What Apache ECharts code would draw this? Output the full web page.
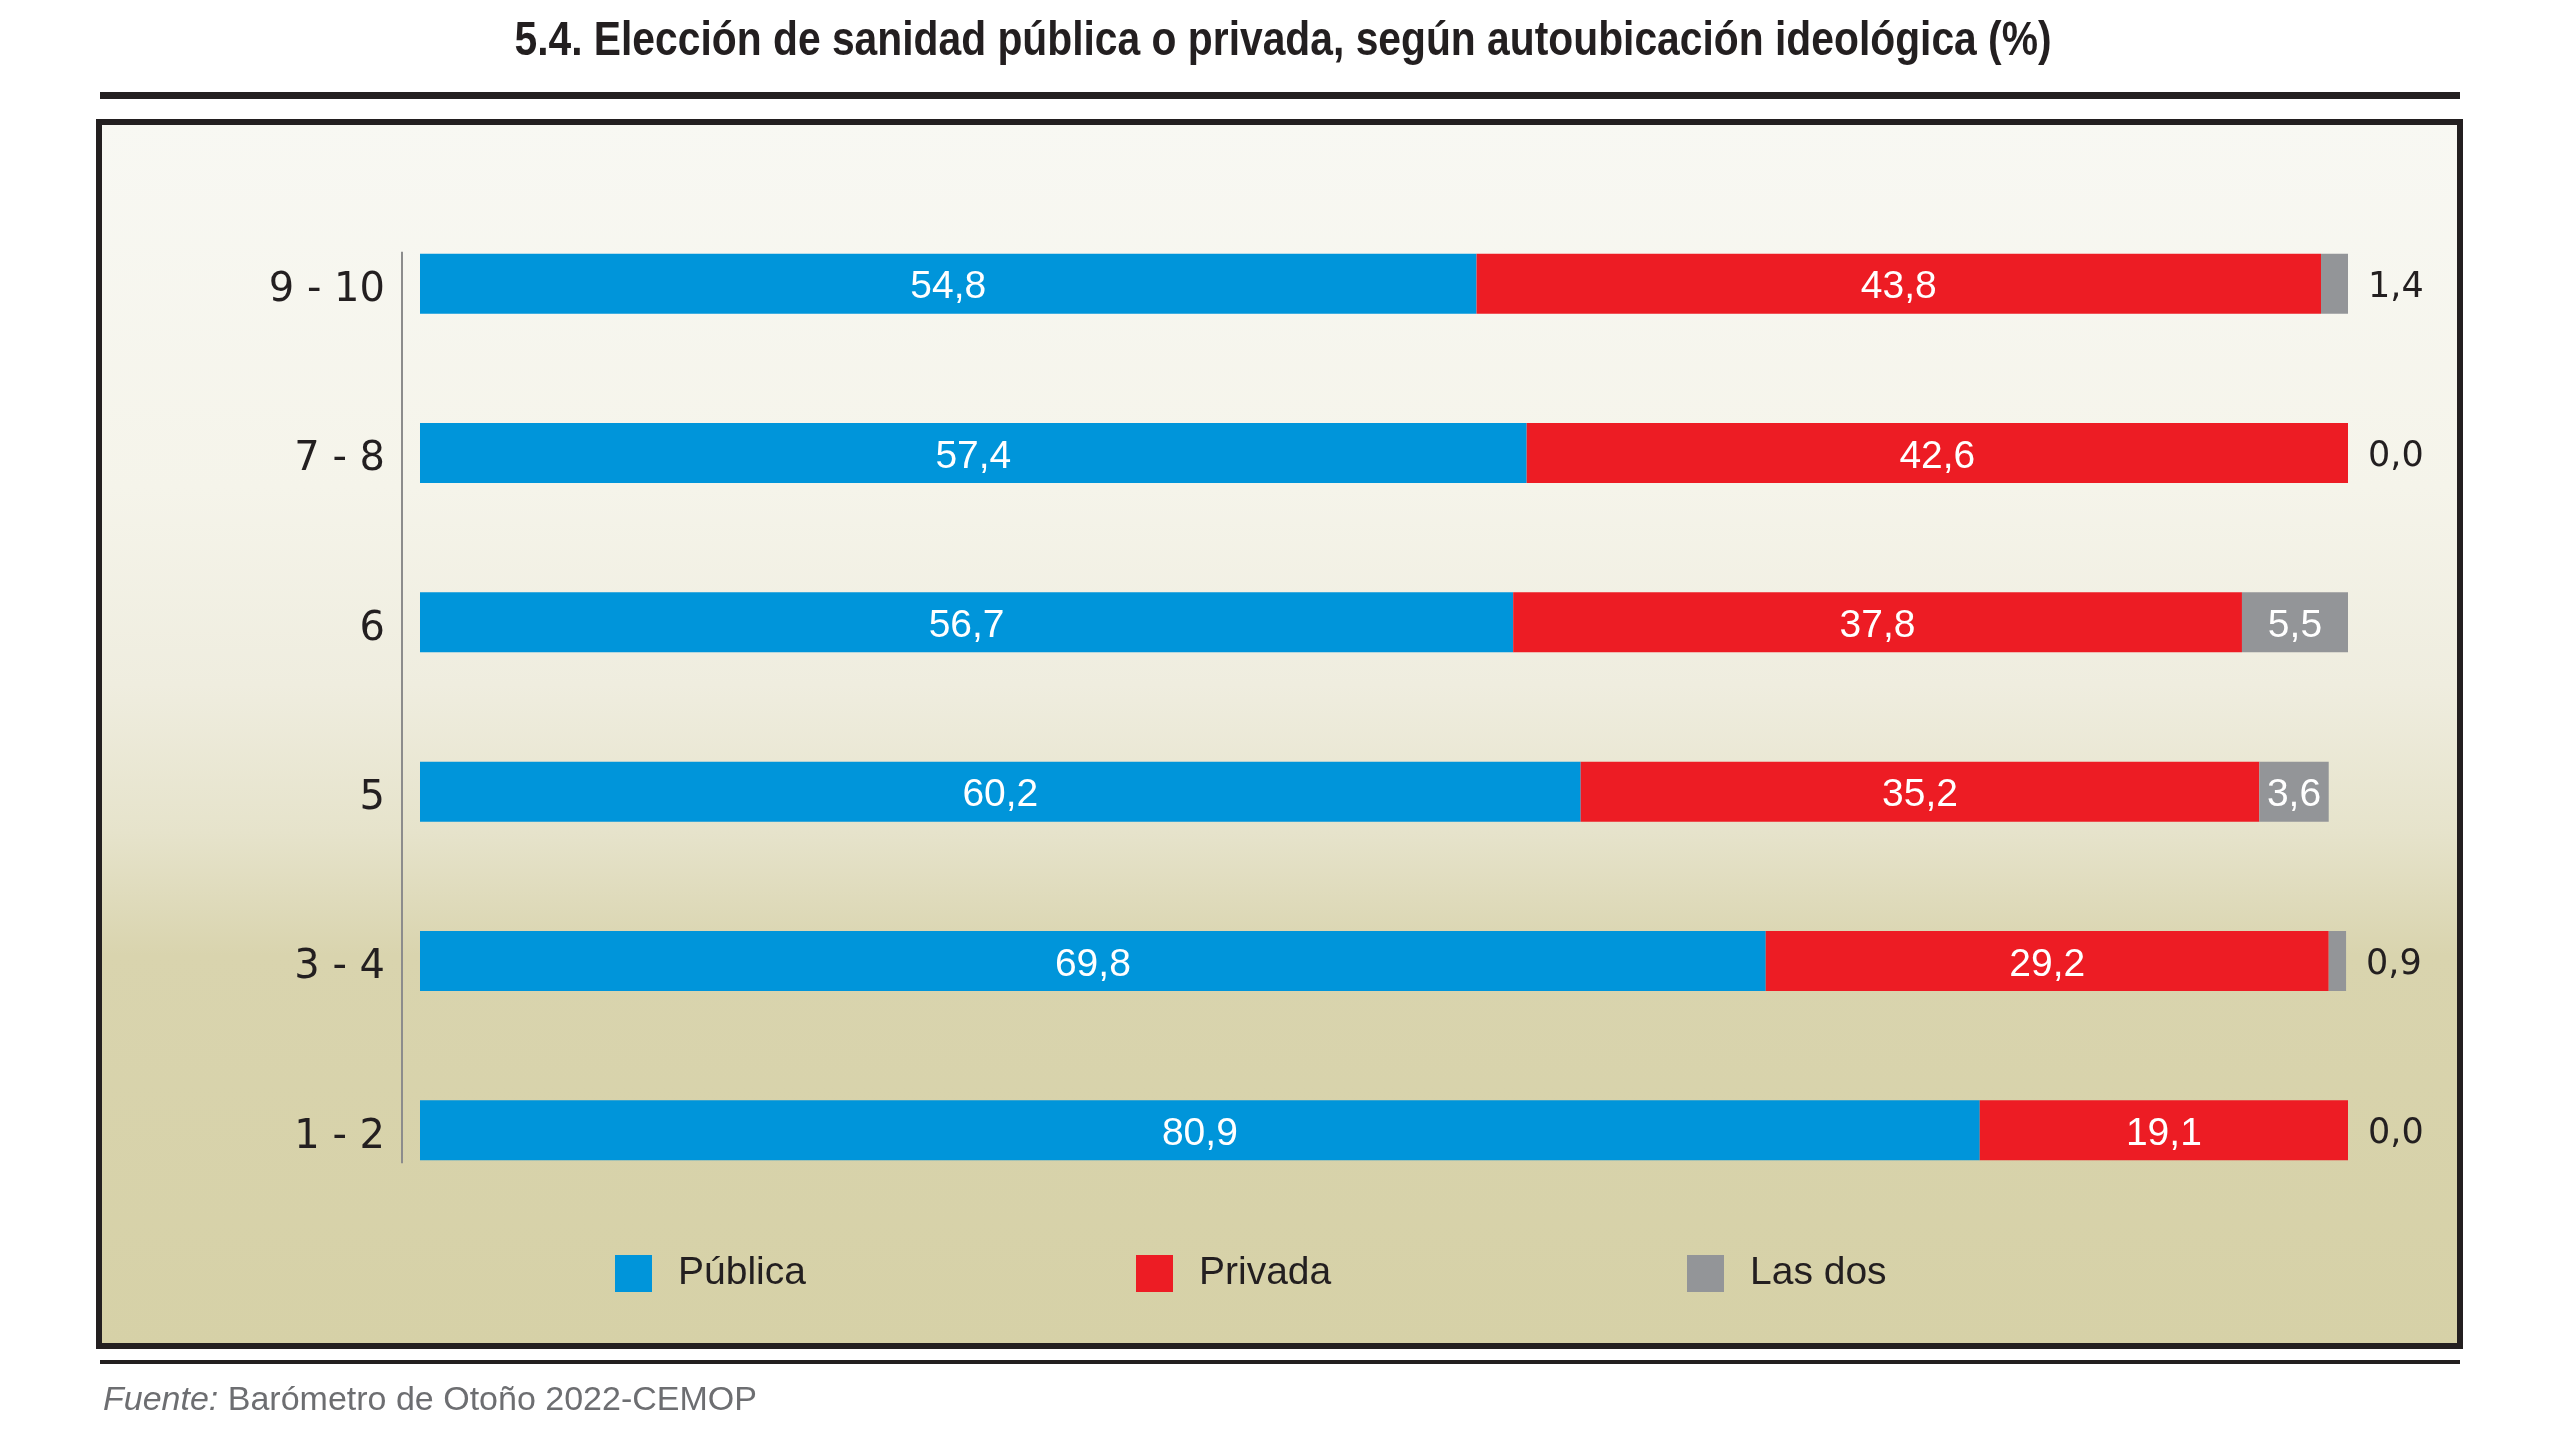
<!DOCTYPE html>
<html>
<head>
<meta charset="utf-8">
<script src="https://cdn.jsdelivr.net/npm/echarts@6/dist/echarts.min.js"></script>
<style>
  html, body { margin: 0; padding: 0; background: #fff; }
  #chart { width: 2560px; height: 1440px; }
</style>
</head>
<body>
<div id="chart"></div>
<script>
// datos (de arriba a abajo)
var categorias = ["9 - 10", "7 - 8", "6", "5", "3 - 4", "1 - 2"];
var publica = [54.8, 57.4, 56.7, 60.2, 69.8, 80.9];
var privada = [43.8, 42.6, 37.8, 35.2, 29.2, 19.1];
var lasDos = [1.4, 0.0, 5.5, 3.6, 0.9, 0.0];
var nombres = ["Pública", "Privada", "Las dos"];
var titulo = "5.4. Elección de sanidad pública o privada, según autoubicación ideológica (%)";

var ink = "#231f20";
var fmt = function (v) { return Number(v).toFixed(1).replace(".", ","); };

var chart = echarts.init(document.getElementById("chart"));

var labelDentro = {
  show: true,
  position: "inside",
  color: "#fff",
  fontFamily: "Liberation Sans, Arial, sans-serif",
  fontSize: 39,
  offset: [0, 4],
  formatter: function (p) { return fmt(p.value); },
};

var legendBase = function (nombre, left) {
  return {
    left: left,
    top: 1254,
    padding: 0,
    icon: "rect",
    itemWidth: 37,
    itemHeight: 37,
    data: [nombre],
    selectedMode: false,
    textStyle: {
      color: ink,
      fontFamily: "Liberation Sans, Arial, sans-serif",
      fontSize: 39,
      padding: [0, 0, 0, 21],
    },
  };
};

var option = {
  animation: false,
  graphic: [
    {
      type: "text",
      x: 1283,
      y: 42,
      scaleX: 0.85,
      style: {
        text: titulo,
        fill: ink,
        font: "bold 48px 'Liberation Sans', Arial, sans-serif",
        align: "center",
        verticalAlign: "middle",
      },
    },
    { type: "rect", z: -10, shape: { x: 100, y: 92, width: 2360, height: 7 }, style: { fill: ink } },
    {
      type: "rect",
      z: -10,
      shape: { x: 99, y: 122, width: 2361, height: 1224 },
      style: {
        stroke: ink,
        lineWidth: 6,
        fill: new echarts.graphic.LinearGradient(0, 0, 0, 1, [
          { offset: 0, color: "#f8f8f3" },
          { offset: 0.3, color: "#f5f4ea" },
          { offset: 0.46, color: "#efeddf" },
          { offset: 0.58, color: "#e6e3cb" },
          { offset: 0.68, color: "#d9d4ae" },
          { offset: 1, color: "#d6d1a7" },
        ]),
      },
    },
    { type: "rect", z: -10, shape: { x: 100, y: 1360, width: 2360, height: 4 }, style: { fill: ink } },
    {
      type: "text",
      left: 103,
      top: 1384,
      style: {
        text: "{i|Fuente:} Barómetro de Otoño 2022-CEMOP",
        fill: "#6d6e71",
        font: "34px 'Liberation Sans', Arial, sans-serif",
        rich: {
          i: { fontStyle: "italic", fontSize: 34, fontFamily: "Liberation Sans", fill: "#6d6e71" },
        },
      },
    },
  ],
  legend: [
    legendBase(nombres[0], 615),
    legendBase(nombres[1], 1136),
    legendBase(nombres[2], 1687),
  ],
  grid: { left: 420, right: 212, top: 199, bottom: 225 },
  xAxis: {
    type: "value",
    min: 0,
    max: 100,
    show: false,
  },
  yAxis: {
    type: "category",
    inverse: true,
    data: categorias,
    offset: 18,
    axisLine: { show: false },
    axisTick: { show: false },
    axisLabel: {
      margin: 17,
      formatter: function (v) { return "{c|" + v + "}"; },
      rich: {
        c: {
          color: ink,
          fontFamily: "DejaVu Sans, Verdana, sans-serif",
          fontSize: 40,
          padding: [14, 0, 0, 0],
        },
      },
    },
  },
  series: [
    {
      name: nombres[0],
      type: "bar",
      stack: "total",
      barWidth: 60,
      itemStyle: { color: "#0095da" },
      label: labelDentro,
      data: publica,
    },
    {
      name: nombres[1],
      type: "bar",
      stack: "total",
      barWidth: 60,
      itemStyle: { color: "#ed1c24" },
      label: labelDentro,
      data: privada,
    },
    {
      name: nombres[2],
      type: "bar",
      stack: "total",
      barWidth: 60,
      itemStyle: { color: "#939598" },
      data: lasDos.map(function (v) {
        // los valores pequeños se rotulan fuera de la barra
        if (v < 2) {
          return {
            value: v,
            label: {
              show: true,
              position: "right",
              distance: 20,
              offset: [0, 4],
              color: ink,
              fontFamily: "DejaVu Sans, Verdana, sans-serif",
              fontSize: 35,
              formatter: function (p) { return fmt(p.value); },
            },
          };
        }
        return { value: v, label: labelDentro };
      }),
    },
  ],
};

chart.setOption(option);

// línea del eje vertical, desde la primera barra hasta la última
var pTop = chart.convertToPixel({ gridIndex: 0 }, [0, categorias[0]]);
var pBot = chart.convertToPixel({ gridIndex: 0 }, [0, categorias[categorias.length - 1]]);
var g = option.graphic.slice();
g.push({
  type: "line",
  shape: { x1: pTop[0] - 18, y1: pTop[1] - 32, x2: pBot[0] - 18, y2: pBot[1] + 33 },
  style: { stroke: "#8c8c8c", lineWidth: 2 },
});
chart.setOption({ graphic: g }, { replaceMerge: ["graphic"] });

window.addEventListener("resize", function () {
  chart.resize();
});
</script>
</body>
</html>
